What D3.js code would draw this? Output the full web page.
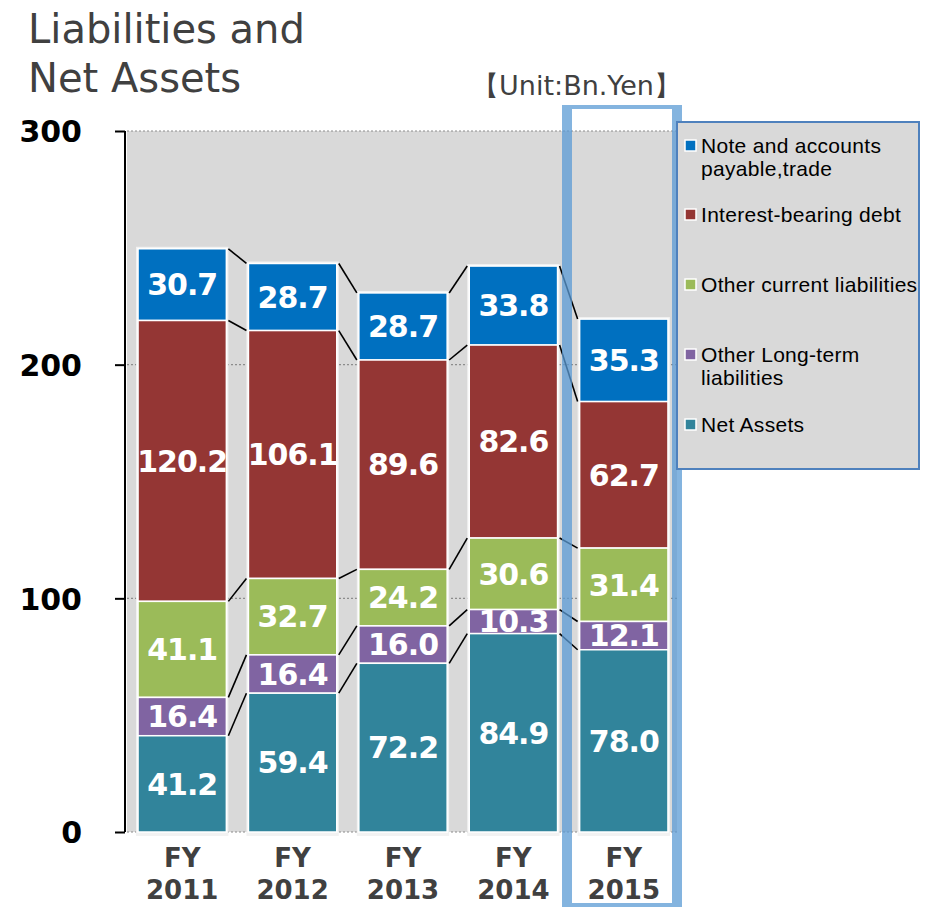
<!DOCTYPE html>
<html>
<head>
<meta charset="utf-8">
<script src="https://cdn.jsdelivr.net/npm/d3@7"></script>
<style>
  body { margin: 0; background: #fff; }
  svg { display: block; }
</style>
</head>
<body>
<div class="chartsWrapper"></div>
<script>
// values, Bn. Yen
var years = ['2011', '2012', '2013', '2014', '2015']
var netAssets = [41.2, 59.4, 72.2, 84.9, 78.0]
var otherLongTerm = [16.4, 16.4, 16.0, 10.3, 12.1]
var otherCurrent = [41.1, 32.7, 24.2, 30.6, 31.4]
var interestDebt = [120.2, 106.1, 89.6, 82.6, 62.7]
var payables = [30.7, 28.7, 28.7, 33.8, 35.3]
var yTicks = [0, 100, 200, 300]

var seriesNames = ['Net Assets', 'Other Long-term liabilities', 'Other current liabilities',
                   'Interest-bearing debt', 'Note and accounts payable,trade']
var seriesValues = [netAssets, otherLongTerm, otherCurrent, interestDebt, payables]
var colors = ['#31849b', '#8064a2', '#9bbb59', '#943634', '#0070c0']

var width = 927, height = 907

var svg = d3.select('.chartsWrapper').append('svg')
    .attr('width', width)
    .attr('height', height)

// rows for the stack
var table = years.map(function(yr, i) {
    var row = {year: yr}
    seriesNames.forEach(function(s, k) { row[s] = seriesValues[k][i] })
    return row
})
var stacked = d3.stack().keys(seriesNames)(table)

var x = d3.scaleBand().domain(years).range([127, 679]).paddingInner(0.2).paddingOuter(0.1)
var y = d3.scaleLinear().domain([0, 300]).range([832, 131])

// plot background
svg.append('rect')
    .attr('x', 127).attr('y', y(300))
    .attr('width', 677 - 127).attr('height', y(0) - y(300))
    .attr('fill', '#d9d9d9')

// dotted gridlines
svg.selectAll('.grid').data(yTicks).enter().append('line')
    .attr('class', 'grid')
    .attr('x1', 127).attr('x2', 677)
    .attr('y1', function(d) { return y(d) }).attr('y2', function(d) { return y(d) })
    .attr('stroke', '#8c8c8c').attr('stroke-width', 1.2)
    .attr('stroke-dasharray', '2,2')

// axis
var axis = svg.append('g')
    .attr('transform', 'translate(125,0)')
    .call(d3.axisLeft(y).tickValues(yTicks).tickSize(10).tickPadding(33))
axis.select('.domain').attr('stroke', '#000').attr('stroke-width', 2).attr('d', 'M0,' + y(300) + 'V' + y(0))
axis.selectAll('.tick line').attr('stroke', '#000').attr('stroke-width', 2)
axis.selectAll('.tick text')
    .attr('font-family', 'DejaVu Sans, Verdana, sans-serif')
    .attr('font-weight', 'bold').attr('font-size', 30).attr('fill', '#000')
    .attr('dy', '0.36em')

// light glow behind each column
svg.selectAll('.glow').data(years).enter().append('rect')
    .attr('x', function(d) { return x(d) - 2 })
    .attr('y', function(d, i) { return y(stacked[4][i][1]) - 2 })
    .attr('width', x.bandwidth() + 4)
    .attr('height', function(d, i) { return y(0) - y(stacked[4][i][1]) + 6 })
    .attr('fill', '#f2f2f2')

// connector lines between segment tops
stacked.forEach(function(layer) {
    for (var i = 0; i < years.length - 1; i++) {
        svg.append('line')
            .attr('x1', x(years[i]) + x.bandwidth() + 2)
            .attr('x2', x(years[i + 1]) - 2)
            .attr('y1', y(layer[i][1]))
            .attr('y2', y(layer[i + 1][1]))
            .attr('stroke', '#000').attr('stroke-width', 1.6)
    }
})

// segments, top series first so lower ones sit over overflowing labels
stacked.slice().reverse().forEach(function(layer) {
    var k = seriesNames.indexOf(layer.key)
    var g = svg.append('g')
    g.selectAll('rect').data(layer).enter().append('rect')
        .attr('x', function(d) { return x(d.data.year) })
        .attr('y', function(d) { return y(d[1]) })
        .attr('width', x.bandwidth())
        .attr('height', function(d) { return y(d[0]) - y(d[1]) })
        .attr('fill', colors[k])
        .attr('stroke', '#fff').attr('stroke-width', 1.5)
    g.selectAll('text').data(layer).enter().append('text')
        .attr('x', function(d) { return x(d.data.year) + x.bandwidth() / 2 })
        .attr('y', function(d) { return y((d[0] + d[1]) / 2) })
        .attr('dy', '0.36em')
        .attr('text-anchor', 'middle')
        .attr('font-family', 'DejaVu Sans, Verdana, sans-serif')
        .attr('font-weight', 'bold').attr('font-size', 30)
        .attr('letter-spacing', -1)
        .attr('fill', '#fff')
        .text(function(d) { return (d[1] - d[0]).toFixed(1) })
})

// x labels
var xl = svg.selectAll('.xlab').data(years).enter().append('text')
    .attr('text-anchor', 'middle')
    .attr('font-family', 'DejaVu Sans, Verdana, sans-serif')
    .attr('font-weight', 'bold').attr('font-size', 26).attr('fill', '#404040')
xl.append('tspan')
    .attr('x', function(d) { return x(d) + x.bandwidth() / 2 })
    .attr('y', 867).text('FY')
xl.append('tspan')
    .attr('x', function(d) { return x(d) + x.bandwidth() / 2 })
    .attr('y', 899).text(function(d) { return d })

// highlight frame round the last year
var hx0 = 562, hx1 = 682, hy0 = 105, hy1 = 907
var frame = svg.append('g').attr('fill', '#5b9bd5').attr('opacity', 0.75)
frame.append('rect').attr('x', hx0).attr('y', hy0).attr('width', 10).attr('height', hy1 - hy0)
frame.append('rect').attr('x', hx1 - 10).attr('y', hy0).attr('width', 10).attr('height', hy1 - hy0)
frame.append('rect').attr('x', hx0 + 10).attr('y', hy0).attr('width', hx1 - hx0 - 20).attr('height', 4)
frame.append('rect').attr('x', hx0 + 10).attr('y', hy1 - 4).attr('width', hx1 - hx0 - 20).attr('height', 4)

// legend
var legend = svg.append('g')
legend.append('rect')
    .attr('x', 677).attr('y', 122).attr('width', 242).attr('height', 347)
    .attr('fill', '#d9d9d9').attr('stroke', '#4f81bd').attr('stroke-width', 2)

var legendRows = [
    {k: 4, lines: ['Note and accounts', 'payable,trade'], y: 153},
    {k: 3, lines: ['Interest-bearing debt'], y: 222},
    {k: 2, lines: ['Other current liabilities'], y: 292},
    {k: 1, lines: ['Other Long-term', 'liabilities'], y: 362},
    {k: 0, lines: ['Net Assets'], y: 432}
]
legendRows.forEach(function(r) {
    legend.append('rect')
        .attr('x', 685).attr('y', r.y - 13).attr('width', 11).attr('height', 11)
        .attr('fill', colors[r.k]).attr('stroke', '#fff').attr('stroke-width', 1.5)
    var t = legend.append('text')
        .attr('font-family', 'Liberation Sans, Arial, sans-serif')
        .attr('font-size', 21).attr('letter-spacing', 0.3).attr('fill', '#000')
    r.lines.forEach(function(l, j) {
        t.append('tspan').attr('x', 701).attr('y', r.y + j * 23).text(l)
    })
})

// title and unit
var title = svg.append('text')
    .attr('font-family', 'DejaVu Sans, Verdana, sans-serif')
    .attr('font-size', 40).attr('fill', '#404040')
title.append('tspan').attr('x', 28).attr('y', 43).text('Liabilities and')
title.append('tspan').attr('x', 28).attr('y', 92).text('Net Assets')

svg.append('text')
    .attr('x', 681).attr('y', 95)
    .attr('text-anchor', 'end')
    .attr('font-family', 'DejaVu Sans, Verdana, sans-serif')
    .attr('font-size', 27).attr('fill', '#404040')
    .text('【Unit:Bn.Yen】')
</script>
</body>
</html>
